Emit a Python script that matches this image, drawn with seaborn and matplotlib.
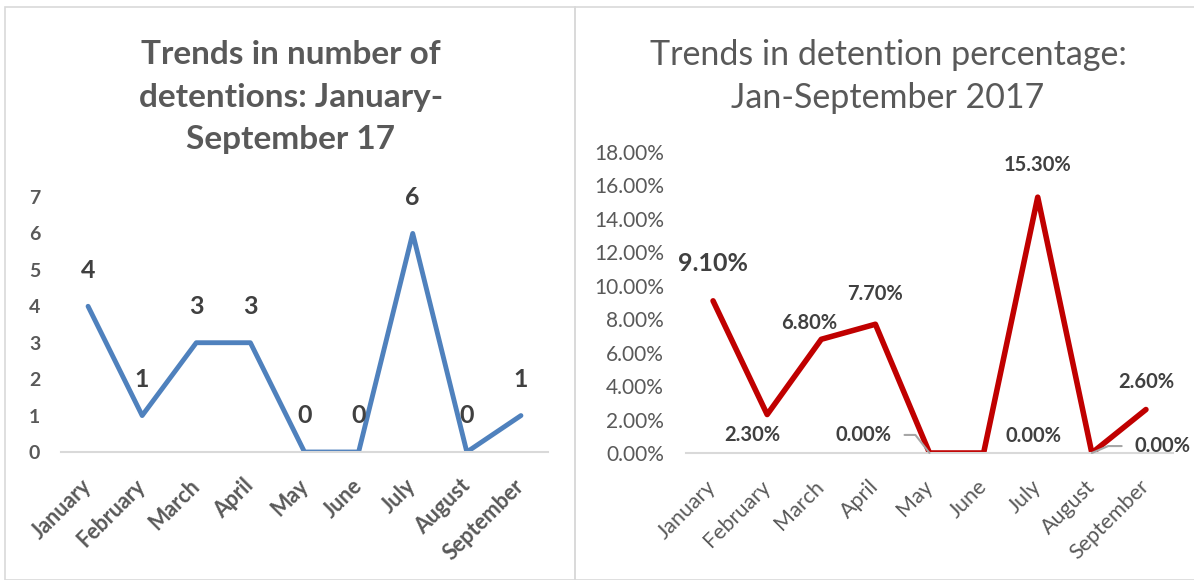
import matplotlib
matplotlib.use("Agg")
import matplotlib.pyplot as plt
import seaborn as sns
import pandas as pd
from matplotlib.patches import Rectangle
from matplotlib.ticker import FuncFormatter, MultipleLocator

months = ["January", "February", "March", "April", "May", "June", "July", "August", "September"]
detentions = [4, 1, 3, 3, 0, 0, 6, 0, 1]
detention_pct = [9.10, 2.30, 6.80, 7.70, 0.00, 0.00, 15.30, 0.00, 2.60]

sns.set_theme(style="white")
plt.rcParams["font.family"] = ["Lato", "DejaVu Sans"]

df = pd.DataFrame({"month": months, "pos": range(len(months)),
                   "count": detentions, "pct": detention_pct})

fig = plt.figure(figsize=(11.94, 5.8), dpi=100)
W, H = 1194, 580

def fx(px):
    return px / W

def fy(py):
    return 1 - py / H

# panel borders
border = "#D9D9D9"
fig.patches.append(Rectangle((fx(5), fy(580)), fx(570), fy(7) - fy(580), transform=fig.transFigure,
                             fill=False, edgecolor=border, lw=1.2))
fig.patches.append(Rectangle((fx(575), fy(580)), fx(640), fy(7) - fy(580), transform=fig.transFigure,
                             fill=False, edgecolor=border, lw=1.2))

gray = "#595959"
dark = "#404040"

# ---------- left chart ----------
ax1 = fig.add_axes([fx(61), fy(452), fx(487), (452 - 197) / H])
sns.lineplot(data=df, x="pos", y="count", ax=ax1, color="#4F81BD", lw=3.5, sort=False)
ax1.set_xlim(-0.5, 8.5)
ax1.set_ylim(0, 7)
ax1.yaxis.set_major_locator(MultipleLocator(1))
ax1.set_xticks(range(len(months)))
ax1.set_xticklabels(months, rotation=45, ha="right", va="center", rotation_mode="anchor",
                    fontsize=15.5, fontweight="bold", color=gray)
for lab in ax1.get_yticklabels():
    lab.set_fontweight("bold")
ax1.tick_params(axis="y", labelsize=14, labelcolor=gray, length=0, pad=15)
ax1.tick_params(axis="x", length=0, pad=22)
ax1.set_xlabel("")
ax1.set_ylabel("")
for s in ["top", "right", "left"]:
    ax1.spines[s].set_visible(False)
ax1.spines["bottom"].set_color("#D9D9D9")
ax1.spines["bottom"].set_linewidth(1.5)
ax1.patch.set_alpha(0)
for i, v in enumerate(detentions):
    ax1.annotate(str(v), (i, v), xytext=(0, 26), textcoords="offset points",
                 ha="center", va="center", fontsize=18, fontweight="bold", color=dark)
fig.text(fx(291), fy(97), "Trends in number of\ndetentions: January-\nSeptember 17", ha="center", va="center",
         fontsize=24, fontweight="bold", color=gray, linespacing=1.56)

# ---------- right chart ----------
ax2 = fig.add_axes([fx(686), fy(453), fx(487), (453 - 152) / H])
sns.lineplot(data=df, x="pos", y="pct", ax=ax2, color="#C00000", lw=4, sort=False)
ax2.set_xlim(-0.5, 8.5)
ax2.set_ylim(0, 18)
ax2.yaxis.set_major_locator(MultipleLocator(2))
ax2.yaxis.set_major_formatter(FuncFormatter(lambda v, p: f"{v:.2f}%"))
ax2.set_xticks(range(len(months)))
ax2.set_xticklabels(months, rotation=45, ha="right", va="center", rotation_mode="anchor",
                    fontsize=15.5, color=gray)
ax2.tick_params(axis="y", labelsize=15, labelcolor=gray, length=0, pad=16)
ax2.tick_params(axis="x", length=0, pad=22)
ax2.set_xlabel("")
ax2.set_ylabel("")
for s in ["top", "right", "left"]:
    ax2.spines[s].set_visible(False)
ax2.spines["bottom"].set_color("#D9D9D9")
ax2.spines["bottom"].set_linewidth(1.5)
ax2.patch.set_alpha(0)

# label offsets in points (dx, dy)
offsets = [(0, 27), (-11, -15), (-9, 12), (0, 22), (-47.5, 13), (36, 12), (0, 23), (51, 5), (0, 20)]
leaders = [None, None, None, None, (1.0, 128), None, None, (0.0, 23), None]
for i, v in enumerate(detention_pct):
    dx, dy = offsets[i]
    size = 18 if i == 0 else 14.5
    kw = dict(xytext=(dx, dy), textcoords="offset points", ha="center", va="center",
              fontsize=size, fontweight="bold", color=dark)
    if leaders[i] is not None:
        relx, angB = leaders[i]
        kw["arrowprops"] = dict(arrowstyle="-", color="#A6A6A6", lw=1.5,
                                connectionstyle=f"angle,angleA=0,angleB={angB},rad=0",
                                relpos=(relx, 0.5), shrinkA=7, shrinkB=0)
    ax2.annotate(f"{v:.2f}%", (i, v), **kw)
fig.text(fx(888), fy(76.5), "Trends in detention percentage:\nJan-September 2017", ha="center", va="center",
         fontsize=24.5, color=gray, linespacing=1.42)

fig.savefig("out.png", dpi=100, facecolor="white")
